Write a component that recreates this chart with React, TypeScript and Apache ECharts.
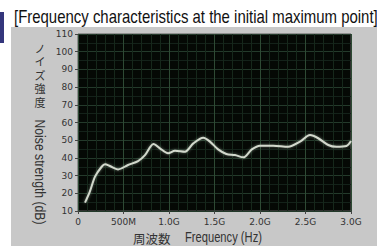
import React, { useEffect, useRef } from "react";
import * as echarts from "echarts";

const freqGHz = [0.077, 0.13, 0.187, 0.26, 0.297, 0.35, 0.44, 0.55, 0.66, 0.736, 0.83, 0.9, 0.99, 1.066, 1.176, 1.267, 1.377, 1.45, 1.54, 1.63, 1.725, 1.817, 1.91, 2.0, 2.146, 2.31, 2.44, 2.55, 2.64, 2.75, 2.84, 2.95, 3.0];
const noiseDb = [14.7, 20.9, 29.4, 35, 36.4, 35.4, 33.5, 36, 38.2, 41.6, 47.9, 45.4, 42.6, 44.1, 43.5, 48.2, 51.4, 49.2, 44.8, 42.2, 41.6, 40.3, 44.8, 46.9, 46.9, 46.3, 49.2, 52.9, 51.1, 47.3, 46.3, 46.7, 49.5];
const xTickLabels = ["0", "500M", "1.0G", "1.5G", "2.0G", "2.5G", "3.0G"];
const yTicks = [10, 20, 30, 40, 50, 60, 70, 80, 90, 100, 110];
const titleText = "[Frequency characteristics at the initial maximum point]";
const yNameJp = ["ノ", "イ", "ズ", "強", "度"];
const yNameEn = "Noise strength (dB)";
const xNameJp = "周波数";
const xNameEn = "Frequency (Hz)";

function fitScale(text: string, font: string, target: number): number {
  const c = document.createElement("canvas").getContext("2d");
  if (!c) return 1;
  c.font = font;
  const w = c.measureText(text).width;
  return w > 0 ? target / w : 1;
}

export default function App() {
  const ref = useRef<HTMLDivElement>(null);
  useEffect(() => {
    if (!ref.current) return;
    const chart = echarts.init(ref.current, null, { renderer: "svg" });
    const titleFont = "18px 'Liberation Sans'";
    const nameFont = "14px 'Liberation Sans'";
    const titleScale = fitScale(titleText, titleFont, 364);
    const yEnScale = fitScale(yNameEn, nameFont, 105);
    const xEnScale = fitScale(xNameEn, nameFont, 77);
    const graphics: any[] = [
      { type: "rect", z: -10, shape: { x: 11, y: 27, width: 366, height: 219 }, style: { fill: "#c8c8c8" } },
      { type: "rect", shape: { x: 0, y: 12, width: 4, height: 31 }, style: { fill: "#34367c" } },
      { type: "text", x: 14, y: 17, scaleX: titleScale, style: { text: titleText, font: titleFont, fill: "#111", verticalAlign: "middle", align: "left" } },
      {
        type: "text", x: 40, y: 41,
        style: { text: yNameJp.join("\n"), font: "11px 'Noto Sans CJK JP'", lineHeight: 13.5, fill: "#333", align: "center", verticalAlign: "top" },
      },
      { type: "text", x: 40, y: 172, rotation: -Math.PI / 2, scaleX: yEnScale, style: { text: yNameEn, font: nameFont, fill: "#333", align: "center", verticalAlign: "middle" } },
      { type: "text", x: 133, y: 238, style: { text: xNameJp, font: "12.5px 'Noto Sans CJK JP'", fill: "#333", align: "left", verticalAlign: "middle" } },
      { type: "text", x: 185, y: 238, scaleX: xEnScale, style: { text: xNameEn, font: nameFont, fill: "#333", align: "left", verticalAlign: "middle" } },
    ];
    chart.setOption({
      animation: false,
      backgroundColor: "#ffffff",
      grid: { left: 78, right: 26, top: 34, bottom: 35, show: true, backgroundColor: "#050905", borderColor: "#5a5a5a", borderWidth: 1 },
      xAxis: {
        type: "value", min: 0, max: 3, interval: 0.5,
        axisLine: { show: false },
        axisTick: { show: true, length: 3, lineStyle: { color: "#444" } },
        axisLabel: {
          margin: 6, color: "#333", fontSize: 9, fontFamily: "'DejaVu Sans'",
          formatter: (v: number) => xTickLabels[Math.round(v / 0.5)] ?? "",
        },
        splitLine: { show: true, lineStyle: { color: "#2e4a34", width: 1 } },
        minorTick: { show: false, splitNumber: 5 },
        minorSplitLine: { show: true, lineStyle: { color: "#16281b", width: 1 } },
      },
      yAxis: {
        type: "value", min: yTicks[0], max: yTicks[yTicks.length - 1], interval: 10,
        axisLine: { show: false },
        axisTick: { show: true, length: 3, lineStyle: { color: "#444" } },
        axisLabel: { margin: 5, color: "#333", fontSize: 9, fontFamily: "'DejaVu Sans'" },
        splitLine: { show: true, lineStyle: { color: "#243a2b", width: 1 } },
        minorTick: { show: false, splitNumber: 2 },
        minorSplitLine: { show: true, lineStyle: { color: "#14221a", width: 1 } },
      },
      series: [
        {
          type: "line",
          data: freqGHz.map((f, i) => [f, noiseDb[i]]),
          smooth: 0.3,
          showSymbol: false,
          lineStyle: { color: "#d2d8cc", width: 2, shadowColor: "rgba(200,220,200,0.5)", shadowBlur: 3 },
        },
      ],
      graphic: graphics,
    });
    return () => chart.dispose();
  }, []);
  return <div ref={ref} style={{ position: "fixed", left: 0, top: 0, width: 377, height: 246 }} />;
}
